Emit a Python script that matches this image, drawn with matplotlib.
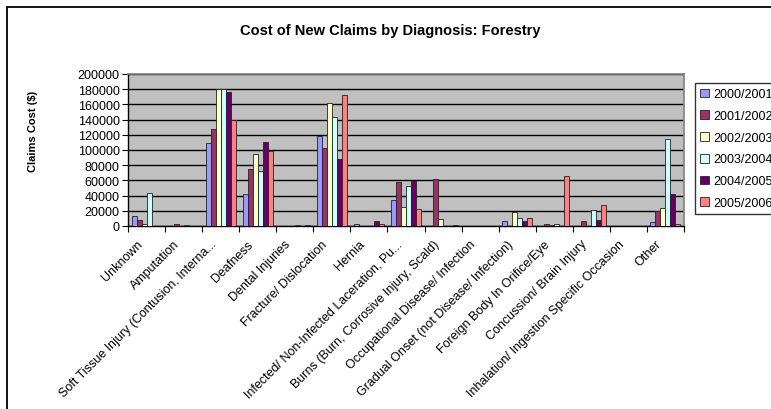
import numpy as np
import matplotlib
matplotlib.use('Agg')
import matplotlib.pyplot as plt
from matplotlib.patches import Rectangle
from matplotlib.transforms import ScaledTranslation

plt.rcParams['font.family'] = ['Liberation Sans', 'DejaVu Sans']

categories = ['Unknown', 'Amputation', 'Soft Tissue Injury (Contusion, Interna...',
              'Deafness', 'Dental Injuries', 'Fracture/ Dislocation', 'Hernia',
              'Infected/ Non-Infected Laceration, Pu...',
              'Burns (Burn, Corrosive Injury, Scald)',
              'Occupational Disease/ Infection',
              'Gradual Onset (not Disease/ Infection)',
              'Foreign Body In Orifice/Eye', 'Concussion/ Brain Injury',
              'Inhalation/ Ingestion Specific Occasion', 'Other']

years = ['2000/2001', '2001/2002', '2002/2003', '2003/2004', '2004/2005', '2005/2006']

y2000 = [12600, 0, 109000, 42000, 0, 118500, 2000, 34000, 0, 0, 7000, 0, 0, 0, 5600]
y2001 = [8300, 2500, 128000, 75000, 0, 102000, 0, 57500, 62000, 0, 0, 2000, 6600, 0, 19300]
y2002 = [3000, 0, 180000, 95000, 0, 162500, 0, 24600, 9000, 0, 18000, 1000, 0, 0, 23300]
y2003 = [44000, 1000, 180000, 72000, 1000, 144000, 0, 53000, 0, 0, 10500, 2000, 21500, 0, 114700]
y2004 = [0, 0, 176000, 110000, 0, 88000, 6500, 59000, 0, 0, 6500, 0, 8300, 0, 42000]
y2005 = [0, 0, 140000, 99000, 1000, 172000, 2500, 22400, 1000, 0, 10500, 65500, 27600, 0, 2600]

colors = ['#9999FF', '#993366', '#FFFFCC', '#CCFFFF', '#660066', '#FF8080']
series = [y2000, y2001, y2002, y2003, y2004, y2005]

fig = plt.figure(figsize=(7.71, 4.10), dpi=100)
W, H = 771, 410

# outer chart border
fig.add_artist(Rectangle((6.5 / W, -0.1), 1.2, 1.1 - 7.5 / H, transform=fig.transFigure,
                         fill=False, edgecolor='black', linewidth=1.3))

ax = fig.add_axes([128 / W, (H - 227) / H, (684 - 128) / W, (227 - 75) / H])
ax.set_facecolor('#C0C0C0')

x = np.arange(len(categories))
bw = 0.135
for i, (vals, c, lab) in enumerate(zip(series, colors, years)):
    ax.bar(x + (i - 2.5) * bw, vals, width=bw, color=c, edgecolor='#222222',
           linewidth=0.6, label=lab, zorder=3)

ax.set_xlim(-0.5, len(categories) - 0.5)
ax.set_ylim(0, 200000)
ax.set_yticks(np.arange(0, 200001, 20000))
ax.yaxis.grid(True, color='black', linewidth=1.0, zorder=1)
ax.set_axisbelow(True)
ax.tick_params(axis='y', length=4, width=0.8, labelsize=9, pad=2)

ax.set_xticks(np.arange(-0.5, len(categories)), minor=False)
ax.set_xticklabels([])
ax.set_xticks(x, minor=True)
ax.set_xticklabels(categories, minor=True, rotation=45, ha='right', va='center',
                   rotation_mode='anchor', fontsize=9)
ax.tick_params(axis='x', which='major', length=4, width=0.8)
ax.tick_params(axis='x', which='minor', length=0, pad=0)
off = ScaledTranslation(-6 / 100, -16 / 100, fig.dpi_scale_trans)
for lbl in ax.get_xticklabels(minor=True):
    lbl.set_transform(lbl.get_transform() + off)

for s in ['top', 'right']:
    ax.spines[s].set_color('#808080')
    ax.spines[s].set_linewidth(1.2)
for s in ['left', 'bottom']:
    ax.spines[s].set_color('black')
    ax.spines[s].set_linewidth(1.0)

fig.text(390 / W, 1 - 31 / H, 'Cost of New Claims by Diagnosis: Forestry',
         ha='center', va='center', fontsize=10.5, fontweight='bold')
fig.text(33 / W, 1 - 131 / H, 'Claims Cost ($)', rotation=90, ha='center',
         va='center', fontsize=8, fontweight='bold')

leg = fig.legend(loc='lower left', bbox_to_anchor=(695 / W, 1 - 215 / H),
                 fontsize=9, frameon=True, fancybox=False, handlelength=0.7,
                 handleheight=0.7, handletextpad=0.4, labelspacing=0.78,
                 borderpad=0.4, borderaxespad=0)
leg.get_frame().set_edgecolor('black')
leg.get_frame().set_linewidth(1.0)

fig.savefig('out.png', dpi=100)
